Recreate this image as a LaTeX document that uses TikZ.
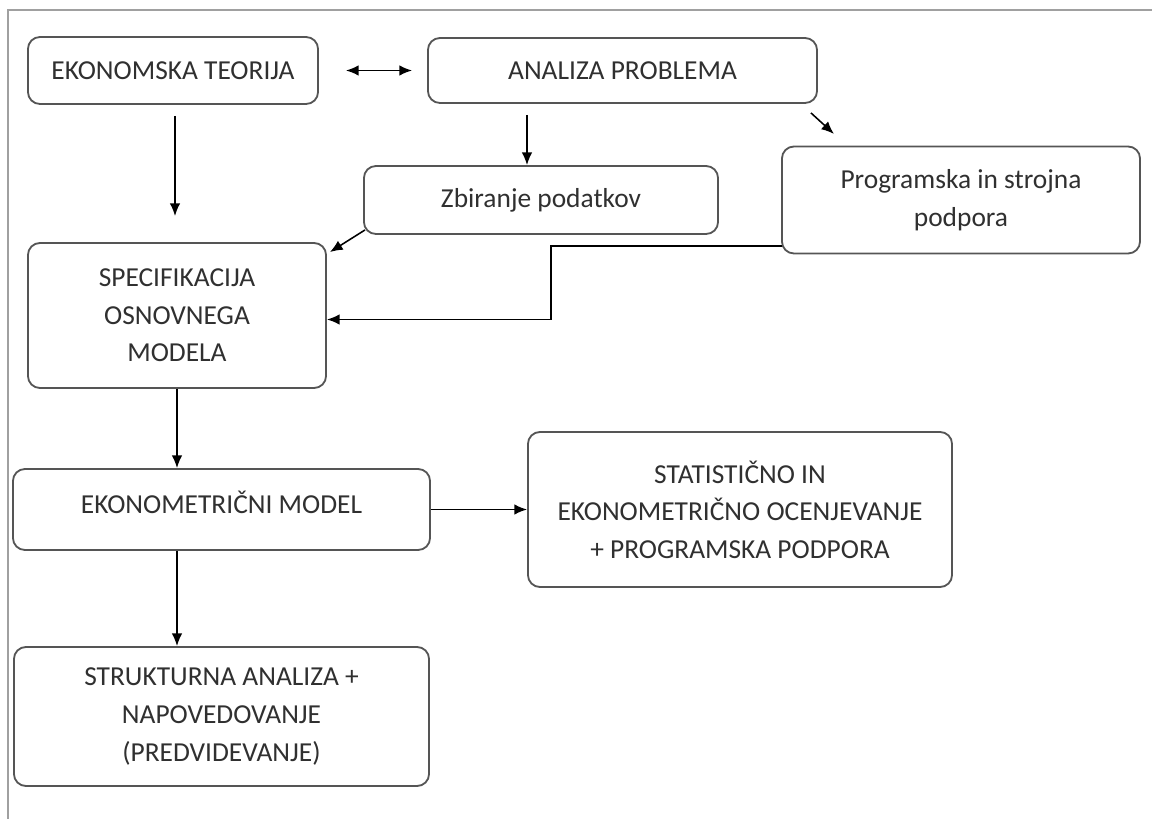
\documentclass[tikz,border=0pt]{standalone}
\usepackage{fontspec}
\setmainfont{Carlito}
\usepackage{xcolor}
\usepackage{tikz}
\usetikzlibrary{arrows.meta,positioning,calc}
\definecolor{boxline}{HTML}{555555}
\definecolor{txtgrey}{HTML}{303030}
\definecolor{framegrey}{HTML}{A0A0A0}
\tikzset{
  stagebox/.style={
    rectangle, rounded corners=0.3cm, draw=boxline, fill=white,
    line width=1.3pt, align=center, text=txtgrey, inner sep=2pt,
    font=\fontsize{19.5}{26.7}\selectfont
  },
  flowarrow/.style={
    -{Latex[length=9pt,width=7.5pt]}, line width=1.1pt, color=black
  },
  twoway/.style={
    {Latex[length=9pt,width=7.5pt]}-{Latex[length=9pt,width=7.5pt]},
    line width=1.1pt, color=black
  },
}
\begin{document}
\begin{tikzpicture}[x=0.025cm, y=-0.025cm]
    \useasboundingbox (0,0) rectangle (1152,819);
    % FRAME
    \draw[framegrey, line width=1.4pt] (8,819) -- (8,10) -- (1152,10);

    % TOP ROW
    \node[stagebox, minimum width=7.25cm, minimum height=1.675cm] (teorija) at (173,70.5) {EKONOMSKA TEORIJA};
    \node[stagebox, minimum width=9.725cm, minimum height=1.625cm] (analiza) at (622.5,70.5) {ANALIZA PROBLEMA};

    % SECOND ROW
    \node[stagebox, minimum width=8.85cm, minimum height=1.7cm] (zbiranje) at (541,200) {Zbiranje podatkov};
    \node[stagebox, minimum width=8.95cm, minimum height=2.675cm] (podpora) at (961,200) {Programska in strojna\\podpora};

    % LEFT COLUMN
    \node[stagebox, minimum width=7.45cm, minimum height=3.625cm] (spec) at (177,315.5) {SPECIFIKACIJA\\OSNOVNEGA\\MODELA};
    \node[stagebox, minimum width=10.425cm, minimum height=2.025cm] (model) at (221.5,509.5) {EKONOMETRIČNI MODEL\rule[-0.35cm]{0pt}{0pt}};
    \node[stagebox, minimum width=10.375cm, minimum height=3.475cm] (struktura) at (221.5,716.5) {STRUKTURNA ANALIZA +\\NAPOVEDOVANJE\\(PREDVIDEVANJE)};

    % RIGHT OF MODEL
    \node[stagebox, minimum width=10.6cm, minimum height=3.875cm] (ocena) at (740,509.5) {STATISTIČNO IN\\EKONOMETRIČNO OCENJEVANJE\\+ PROGRAMSKA PODPORA};

    % CONNECTORS
    \coordinate (teorend) at (175,216);
    \coordinate (analout) at (527,103);
    \coordinate (podout) at (782,246);
    \coordinate (bend) at (551,246);
    \draw[twoway, shorten <=0.675cm, shorten >=0.375cm] (teorija.east) -- (analiza.west);
    \draw[flowarrow, shorten <=0.275cm] (teorija.south -| teorend) -- (teorend);
    \draw[flowarrow, shorten <=0.3cm] (analout) -- (analout |- zbiranje.north);
    \draw[flowarrow] ([shift={(-7,9)}]analiza.south east) -- ++(23,21);
    \draw[flowarrow] ([shift={(2,-5)}]zbiranje.south west) -- ([shift={(3,10)}]spec.north east);
    \draw[flowarrow] (podout) -- (bend) |- ([yshift=-0.1cm]spec.east);
    \draw[flowarrow] (spec.south) -- (spec.south |- model.north);
    \draw[flowarrow] (spec.south |- model.south) -- (spec.south |- struktura.north);
    \draw[flowarrow] (model.east) -- (ocena.west);
\end{tikzpicture}
\end{document}
